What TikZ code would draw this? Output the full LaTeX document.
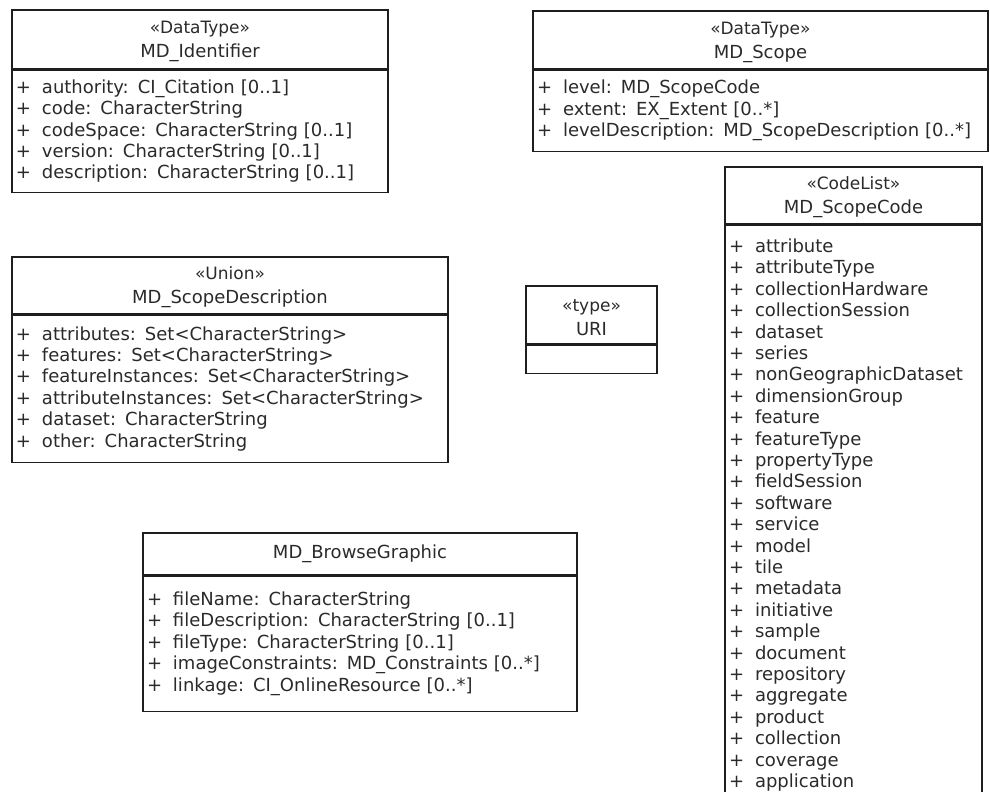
\documentclass[tikz,border=0pt]{standalone}
\usepackage{fontspec}
\setmainfont{DejaVu Sans}
\usetikzlibrary{positioning}
\definecolor{umlink}{HTML}{1E1E1E}
\definecolor{umltext}{HTML}{2A2A2A}
\newcommand{\attr}[1]{\makebox[26pt][l]{+}#1}
\newcommand{\stereo}[1]{{\fontsize{17}{24}\selectfont\rule{0pt}{17pt}«#1»}}

\begin{document}
\begin{tikzpicture}[
        x=1pt, y=-1pt,
        classhead/.style={
            rectangle,
            draw=umlink,
            line width=1.1pt,
            align=center,
            inner sep=0pt,
            text=umltext,
            font=\fontsize{18}{24}\selectfont
        },
        classbody/.style={
            rectangle,
            draw=umlink,
            line width=1.1pt,
            align=left,
            inner xsep=4pt,
            inner ysep=0pt,
            text=umltext,
            font=\fontsize{18}{21.4}\selectfont
        }
    ]
        \useasboundingbox (0,0) rectangle (990,792);
        \clip (0,0) rectangle (990,792);

        % MD_Identifier
        \node[classhead, minimum width=376pt, minimum height=59pt] (idHead) at (200,39.5)
            {\stereo{DataType}\\MD\_Identifier};
        \node[classbody, text width=368pt, minimum height=122pt, below=0pt of idHead] (idBody)
            {\attr{authority: CI\_Citation [0..1]}\\
             \attr{code: CharacterString}\\
             \attr{codeSpace: CharacterString [0..1]}\\
             \attr{version: CharacterString [0..1]}\\
             \attr{description: CharacterString [0..1]}};

        % MD_Scope
        \node[classhead, minimum width=455pt, minimum height=58pt] (scopeHead) at (760.5,40)
            {\stereo{DataType}\\MD\_Scope};
        \node[classbody, text width=447pt, minimum height=81pt, below=0pt of scopeHead] (scopeBody)
            {\attr{level: MD\_ScopeCode}\\
             \attr{extent: EX\_Extent [0..*]}\\
             \attr{levelDescription: MD\_ScopeDescription [0..*]}};

        % MD_ScopeDescription
        \node[classhead, minimum width=436pt, minimum height=57pt] (descHead) at (230,285.5)
            {\stereo{Union}\\MD\_ScopeDescription};
        \node[classbody, text width=428pt, minimum height=147pt, below=0pt of descHead] (descBody)
            {\attr{attributes: Set<CharacterString>}\\
             \attr{features: Set<CharacterString>}\\
             \attr{featureInstances: Set<CharacterString>}\\
             \attr{attributeInstances: Set<CharacterString>}\\
             \attr{dataset: CharacterString}\\
             \attr{other: CharacterString}};

        % URI
        \node[classhead, minimum width=131pt, minimum height=58pt] (uriHead) at (591.5,315)
            {\stereo{type}\\URI};
        \node[classbody, text width=123pt, minimum height=28pt, below=0pt of uriHead] (uriBody) {};

        % MD_ScopeCode
        \node[classhead, minimum width=257pt, minimum height=57pt] (codeHead) at (853.5,195.5)
            {\stereo{CodeList}\\MD\_ScopeCode};
        \node[classbody, text width=249pt, minimum height=580pt, below=0pt of codeHead] (codeBody)
            {\attr{attribute}\\
             \attr{attributeType}\\
             \attr{collectionHardware}\\
             \attr{collectionSession}\\
             \attr{dataset}\\
             \attr{series}\\
             \attr{nonGeographicDataset}\\
             \attr{dimensionGroup}\\
             \attr{feature}\\
             \attr{featureType}\\
             \attr{propertyType}\\
             \attr{fieldSession}\\
             \attr{software}\\
             \attr{service}\\
             \attr{model}\\
             \attr{tile}\\
             \attr{metadata}\\
             \attr{initiative}\\
             \attr{sample}\\
             \attr{document}\\
             \attr{repository}\\
             \attr{aggregate}\\
             \attr{product}\\
             \attr{collection}\\
             \attr{coverage}\\
             \attr{application}};

        % MD_BrowseGraphic
        \node[classhead, minimum width=434pt, minimum height=42pt] (browseHead) at (360,554)
            {MD\_BrowseGraphic};
        \node[classbody, text width=426pt, minimum height=135pt, below=0pt of browseHead] (browseBody)
            {\attr{fileName: CharacterString}\\
             \attr{fileDescription: CharacterString [0..1]}\\
             \attr{fileType: CharacterString [0..1]}\\
             \attr{imageConstraints: MD\_Constraints [0..*]}\\
             \attr{linkage: CI\_OnlineResource [0..*]}};
    \end{tikzpicture}
\end{document}
